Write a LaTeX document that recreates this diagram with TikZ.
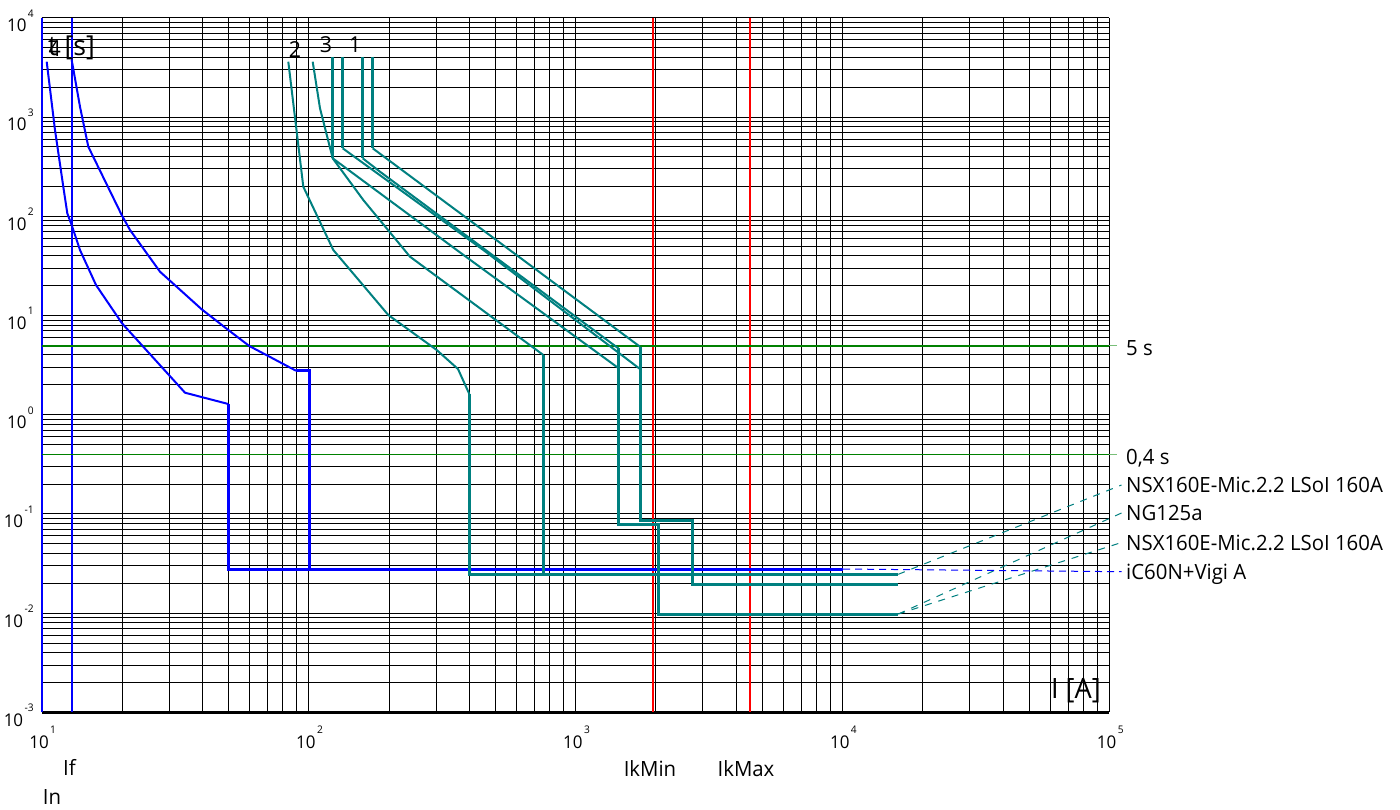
\documentclass[tikz,border=0pt]{standalone}
\usepackage{fontspec}
\setmainfont{Open Sans}[FakeStretch=0.97]
\definecolor{tealc}{RGB}{0,128,128}
\definecolor{greenc}{RGB}{0,128,0}
\definecolor{lgreen}{RGB}{120,190,120}
\newcommand\tenpow[1]{10\hspace{1.5pt}\raisebox{14.5pt}{\fontsize{10.5}{10}\selectfont #1}}
\tikzset{
  gridline/.style={draw=black, line width=0.8pt},
  thinT/.style={draw=tealc, line width=2pt, line join=round},
  thickT/.style={draw=tealc, line width=3pt, line join=miter},
  thinB/.style={draw=blue, line width=2pt, line join=round},
  thickB/.style={draw=blue, line width=3pt, line join=miter},
  leaderT/.style={draw=tealc, line width=1pt, dash pattern=on 7pt off 7pt},
  leaderB/.style={draw=blue, line width=1pt, dash pattern=on 7pt off 5pt},
  redline/.style={draw=red, line width=1.6pt},
  greenline/.style={draw=greenc, line width=1.6pt},
  rlabel/.style={anchor=west, inner xsep=4.5pt, inner ysep=0pt, text height=15pt, text depth=0pt, font=\fontsize{21}{24}\selectfont},
  blabel/.style={anchor=base, inner sep=0pt, font=\fontsize{21}{24}\selectfont},
  ticklab/.style={inner sep=0pt, font=\fontsize{17.5}{20}\selectfont},
  curvelab/.style={anchor=base, inner sep=0pt, font=\fontsize{22}{24}\selectfont}
}
\begin{document}
\begin{tikzpicture}[x=1pt,y=-1pt]
\useasboundingbox (0,0) rectangle (1400,809);
\fill[white] (0,0) rectangle (1400,809);
% vertical grid
\foreach \k in {1,...,4}{
  \foreach \i in {1,...,9}{
    \pgfmathsetmacro\gx{41.7+(\k-1+log10(\i))*266.9}
    \draw[gridline] (\gx,17.7) -- (\gx,712.3);
  }
}
\draw[gridline] (1109.3,17.7) -- (1109.3,712.3);
% horizontal grid
\foreach \k in {-3,...,3}{
  \foreach \i in {1,...,9}{
    \pgfmathsetmacro\gy{17.7+(4-\k-log10(\i))*99.23}
    \draw[gridline] (41.7,\gy) -- (1109.3,\gy);
  }
}
\draw[gridline] (41.7,17.7) -- (1109.3,17.7);
\draw[draw=black, line width=2.4pt] (41.7,712.3) -- (1109.3,712.3);
% tick labels
\foreach \k/\gy in {4/17.7,3/116.9,2/216.2,1/315.4,0/414.6,-1/513.8,-2/613.1,-3/712.3}{
  \node[ticklab, anchor=base east] at (34,\gy+14) {\tenpow{\k}};
}
\foreach \k/\gx in {1/41.7,2/308.6,3/575.5,4/842.4,5/1109.3}{
  \node[ticklab, anchor=base] at (\gx+1,748) {\tenpow{\k}};
}
% In / If lines
\draw[draw=blue, line width=2pt] (41.7,17.7) -- (41.7,712.3);
\draw[draw=blue, line width=1.8pt] (72,17.7) -- (72,712.3);
% red lines
\draw[redline] (652.7,17.7) -- (652.7,712.3);
\draw[redline] (750,17.7) -- (750,712.3);
% green lines
\draw[greenline] (41.7,345.7) -- (1109.3,345.7);
\draw[greenline] (41.7,454.3) -- (1109.3,454.3);
\draw[draw=lgreen, line width=1pt] (1109.3,345.7) -- (1117,345.7);
\draw[draw=lgreen, line width=1pt] (1109.3,454.3) -- (1117,454.3);
% blue curves (iC60N+Vigi A)
\draw[thinB] (46.7,61.7) -- (55,130) -- (63.3,186.7) -- (67.3,213.3) -- (72,226) -- (80,250) -- (96,285) -- (122,323.3) -- (185,392.7) -- (228.3,404);
\draw[thickB] (228.3,404) -- (228.3,569) -- (843,569);
\draw[thinB] (71.7,60) -- (80,106.7) -- (88.3,146.7) -- (121.7,215) -- (130,230) -- (160,271.7) -- (201.7,309.3) -- (228.3,330) -- (249.3,346) -- (296,370.7);
\draw[thickB] (296,370.7) -- (309,370.7) -- (309,569);
% teal curves
\draw[thinT] (288.3,61.7) -- (303.3,186.7) -- (333.3,250) -- (388.3,315) -- (436.7,350) -- (458,369) -- (469.3,394);
\draw[thickT] (469.3,394) -- (469.3,574.3) -- (898.3,574.3);
\draw[thinT] (312.7,61.7) -- (320,108.3) -- (332.7,158.3) -- (363.3,200) -- (410,256.7) -- (543.3,355);
\draw[thickT] (543.3,355) -- (543.3,574.3);
\draw[thickT] (372.7,56.7) -- (372.7,148.3);
\draw[thinT] (372.7,148.3) -- (640,346.7);
\draw[thickT] (640,346.7) -- (640,520.7) -- (692.7,520.7) -- (692.7,584.3) -- (898.3,584.3);
\draw[thickT] (342.7,56.7) -- (342.7,148.3);
\draw[thinT] (342.7,148.3) -- (483.3,250) -- (640,369);
\draw[thickT] (362.7,56.7) -- (362.7,158.3);
\draw[thinT] (362.7,158.3) -- (380,171.7) -- (618.3,348.3);
\draw[thickT] (618.3,348.3) -- (618.3,524.3) -- (658.3,524.3) -- (658.3,614) -- (898.3,614);
\draw[thickT] (332.7,56.7) -- (332.7,158.3);
\draw[thinT] (332.7,158.3) -- (456.7,250) -- (618.3,368);
% curve end coordinates
\coordinate (endC) at (898.3,574.3);
\coordinate (endA) at (898.3,584.3);
\coordinate (endB) at (898.3,614);
\coordinate (endBlue) at (843,569);
% right labels
\node[rlabel] (l5s) at (1121.5,348) {5 s};
\node[rlabel] (l04s) at (1121.5,456.7) {0,4 s};
\node[rlabel] (lnsx1) at (1121.5,485) {NSX160E-Mic.2.2 LSoI 160A};
\node[rlabel] (lng) at (1121.5,513) {NG125a};
\node[rlabel] (lnsx2) at (1121.5,542.5) {NSX160E-Mic.2.2 LSoI 160A};
\node[rlabel] (lic) at (1121.5,571.7) {iC60N+Vigi A};
\draw[leaderT] (endC) -- (lnsx1.west);
\draw[leaderT] (endB) -- (lng.west);
\draw[leaderT] (endB) -- (lnsx2.west);
\draw[leaderB] (endBlue) -- (lic.west);
% axis labels
\node[anchor=base west, inner sep=0pt, font=\fontsize{27.5}{30}\selectfont] (tlab) at (48,55.3) {t [s]};
\node[anchor=base east, inner sep=0pt, font=\fontsize{28}{30}\selectfont] (ilab) at (1101,698) {I [A]};
\node[curvelab] (c4) at (54.7,56) {4};
\node[curvelab] (c2) at (295,57.3) {2};
\node[curvelab] (c3) at (326,52.5) {3};
\node[curvelab] (c1) at (355,52.3) {1};
% bottom labels
\node[anchor=base west, inner sep=0pt, font=\fontsize{21}{24}\selectfont] (lif) at (63,775) {If};
\node[anchor=base west, inner sep=0pt, font=\fontsize{21}{24}\selectfont] (lin) at (42.7,804) {In};
\node[blabel] (lmin) at (650,776) {IkMin};
\node[blabel] (lmax) at (746,776) {IkMax};
\end{tikzpicture}
\end{document}
